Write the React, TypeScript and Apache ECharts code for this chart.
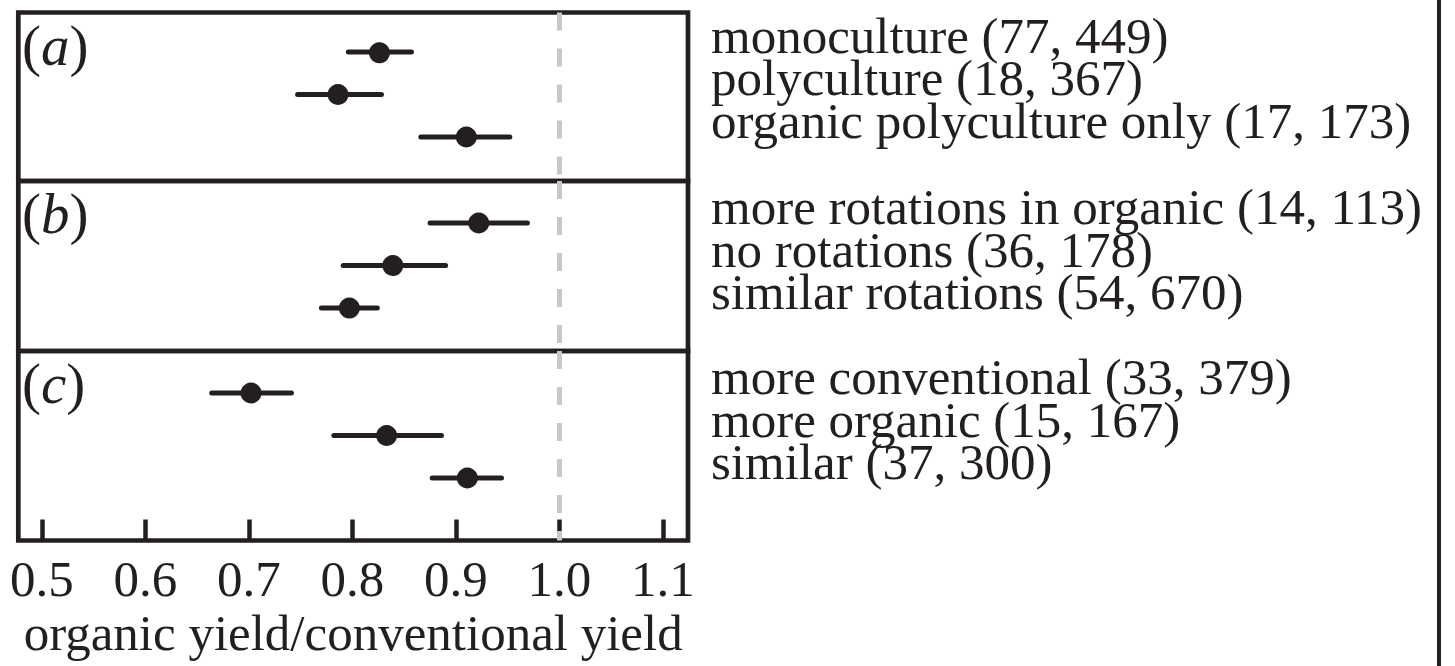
import React, { useEffect, useRef } from "react";
import * as echarts from "echarts";

// ---------- data ----------
const panelLetters = ["a", "b", "c"];

const catsA = ["monoculture", "polyculture", "organic polyculture only"];
const studiesA = [77, 18, 17];
const obsA = [449, 367, 173];
const meanA = [0.826, 0.786, 0.91];
const lowA = [0.796, 0.747, 0.866];
const highA = [0.857, 0.828, 0.952];

const catsB = ["more rotations in organic", "no rotations", "similar rotations"];
const studiesB = [14, 36, 54];
const obsB = [113, 178, 670];
const meanB = [0.922, 0.839, 0.797];
const lowB = [0.875, 0.791, 0.77];
const highB = [0.969, 0.89, 0.824];

const catsC = ["more conventional", "more organic", "similar"];
const studiesC = [33, 15, 37];
const obsC = [379, 167, 300];
const meanC = [0.702, 0.833, 0.911];
const lowC = [0.664, 0.782, 0.877];
const highC = [0.741, 0.886, 0.944];

const tickValues = [0.5, 0.6, 0.7, 0.8, 0.9, 1.0, 1.1];
const referenceValue = 1.0;
const xTitle = "organic yield/conventional yield";

// ---------- styling / layout ----------
const INK = "#231f20";
const FONT = '"Liberation Serif", "Times New Roman", Times, serif';
const X_MIN = 0.4771;
const X_MAX = 1.1242;
const GRID_LEFT = 18.3;
const GRID_WIDTH = 669.7;
const panelTops = [12.5, 181, 351];
const panelHeights = [168.5, 170, 189.5];
const panelYRange = [
  [-0.929, 3.035],
  [-0.988, 3.01],
  [-0.988, 3.47],
];

const panels = [
  { cats: catsA, studies: studiesA, obs: obsA, mean: meanA, low: lowA, high: highA },
  { cats: catsB, studies: studiesB, obs: obsB, mean: meanB, low: lowB, high: highB },
  { cats: catsC, studies: studiesC, obs: obsC, mean: meanC, low: lowC, high: highC },
];

function buildOption() {
  const grid = panels.map((_, i) => ({
    left: GRID_LEFT,
    top: panelTops[i],
    width: GRID_WIDTH,
    height: panelHeights[i],
    show: true,
    borderColor: INK,
    borderWidth: 4.7,
    backgroundColor: "transparent",
    containLabel: false,
  }));

  const xAxis = panels.map((_, i) => {
    const isLast = i === panels.length - 1;
    return {
      type: "value",
      gridIndex: i,
      position: "bottom",
      min: X_MIN,
      max: X_MAX,
      show: isLast,
      splitLine: { show: false },
      axisLine: { show: false, onZero: false },
      axisTick: {
        show: isLast,
        inside: true,
        length: 21,
        customValues: tickValues,
        lineStyle: { color: INK, width: 4.5 },
      },
      axisLabel: {
        show: isLast,
        customValues: tickValues,
        margin: 13,
        color: INK,
        fontFamily: FONT,
        fontSize: 51,
        formatter: (v: number) => v.toFixed(1),
      },
      name: isLast ? xTitle : "",
      nameLocation: "middle",
      nameGap: 67,
      nameTextStyle: { color: INK, fontFamily: FONT, fontSize: 51 },
    };
  });

  const yAxis = panels.map((_, i) => ({
    type: "value",
    gridIndex: i,
    inverse: true,
    min: panelYRange[i][0],
    max: panelYRange[i][1],
    show: false,
    splitLine: { show: false },
    axisLine: { onZero: false },
  }));

  const series = panels.map((p, i) => ({
    type: "custom",
    xAxisIndex: i,
    yAxisIndex: i,
    clip: false,
    silent: true,
    data: p.cats.map((c, r) => ({
      name: `${c} (${p.studies[r]}, ${p.obs[r]})`,
      value: [r, p.mean[r], p.low[r], p.high[r]],
    })),
    encode: { x: [1, 2, 3], y: 0 },
    renderItem: (params: any, api: any) => {
      const row = api.value(0);
      const mean = api.value(1);
      const lo = api.value(2);
      const hi = api.value(3);
      const pLo = api.coord([lo, row]);
      const pHi = api.coord([hi, row]);
      const pM = api.coord([mean, row]);
      const cs = params.coordSys;
      const k = params.dataIndex;
      const label = `${p.cats[k]} (${p.studies[k]}, ${p.obs[k]})`;
      return {
        type: "group",
        children: [
          {
            type: "line",
            shape: { x1: pLo[0], y1: pLo[1], x2: pHi[0], y2: pHi[1] },
            style: { stroke: INK, lineWidth: 5, lineCap: "round" },
          },
          {
            type: "circle",
            shape: { cx: pM[0], cy: pM[1], r: 10.5 },
            style: { fill: INK },
          },
          {
            type: "text",
            x: cs.x + cs.width + 23,
            y: pM[1] - 16,
            style: {
              text: label,
              fill: INK,
              fontFamily: FONT,
              fontSize: 51,
              lineHeight: 38,
              align: "left",
              verticalAlign: "middle",
            },
          },
        ],
      };
    },
    markLine: {
      silent: true,
      symbol: "none",
      z: 1,
      label: { show: false },
      lineStyle: { color: "#c8c8c8", width: 5, type: [18, 18] },
      data: [{ xAxis: referenceValue }],
    },
    z: 3,
  }));

  const graphic: any[] = panelLetters.map((l, i) => ({
    type: "text",
    left: 22,
    top: panelTops[i] + 4,
    style: {
      text: `{p|(}{i|${l}}{p|)}`,
      fill: INK,
      rich: {
        p: { fontFamily: FONT, fontSize: 57, fill: INK },
        i: { fontFamily: FONT, fontSize: 57, fontStyle: "italic", fill: INK },
      },
    },
    z: 10,
  }));
  graphic.push({
    type: "rect",
    left: 1437,
    top: 0,
    shape: { width: 4, height: 666 },
    style: { fill: INK },
  });

  return {
    animation: false,
    backgroundColor: "#ffffff",
    grid,
    xAxis,
    yAxis,
    series,
    graphic,
  };
}

export default function App() {
  const ref = useRef<HTMLDivElement>(null);
  useEffect(() => {
    if (!ref.current) return;
    const chart = echarts.init(ref.current, undefined, { renderer: "svg" });
    chart.setOption(buildOption() as any);
    return () => chart.dispose();
  }, []);
  return (
    <div
      ref={ref}
      style={{ position: "fixed", left: 0, top: 0, width: 1455, height: 666, background: "#fff" }}
    />
  );
}
